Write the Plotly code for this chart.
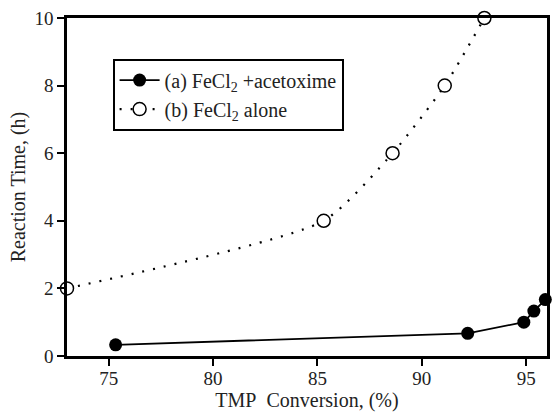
import plotly.graph_objects as go

conv_a = [75.33, 92.2, 94.89, 95.37, 95.92]
time_a = [0.33, 0.67, 1.0, 1.33, 1.67]
conv_b = [73.0, 85.3, 88.6, 91.1, 93.0]
time_b = [2.0, 4.0, 6.0, 8.0, 10.0]

name_a = "(a) FeCl<sub>2</sub> +acetoxime"
name_b = "(b) FeCl<sub>2</sub> alone"

x_ticks = [75, 80, 85, 90, 95]
y_ticks = [0, 2, 4, 6, 8, 10]

SERIF = "Liberation Serif, Times New Roman, serif"

fig = go.Figure()
fig.add_trace(go.Scatter(
    x=conv_a, y=time_a, name=name_a, mode="lines+markers",
    line=dict(color="black", width=1.8),
    marker=dict(symbol="circle", size=13, color="black"),
    cliponaxis=False,
))
fig.add_trace(go.Scatter(
    x=conv_b, y=time_b, name=name_b, mode="lines+markers",
    line=dict(color="black", width=2.2, dash="2px,9px", shape="spline", smoothing=0.6),
    marker=dict(symbol="circle", size=13, color="white", line=dict(color="black", width=1.5)),
    cliponaxis=False,
))

axis_common = dict(
    showline=True, linecolor="black", linewidth=2.5, mirror=True,
    ticks="outside", ticklen=7, tickwidth=1.5, tickcolor="black",
    showgrid=False, zeroline=False,
    tickfont=dict(family=SERIF, size=19, color="#222"),
)

fig.update_layout(
    width=552, height=414,
    margin=dict(l=67, r=2, t=18, b=58),
    paper_bgcolor="white", plot_bgcolor="white",
    font=dict(family=SERIF, color="#222"),
    showlegend=True,
    legend=dict(
        x=0.095, y=0.88, xanchor="left", yanchor="top",
        bordercolor="black", borderwidth=2, bgcolor="white",
        font=dict(family=SERIF, size=20, color="#222"),
        tracegroupgap=0, itemwidth=40,
    ),
)
fig.update_xaxes(range=[73, 96], tickvals=x_ticks, ticklabelstandoff=-4,
                 title=dict(text="TMP&nbsp; Conversion, (%)", font=dict(family=SERIF, size=20, color="#222"), standoff=6),
                 **axis_common)
fig.update_yaxes(range=[0, 10], tickvals=y_ticks,
                 title=dict(text="Reaction Time, (h)", font=dict(family=SERIF, size=20, color="#222"), standoff=4),
                 **axis_common)

fig.write_html(
    "out.html",
    config={"displayModeBar": False},
    post_script="document.body.style.margin='0';document.body.style.overflow='hidden';",
)
